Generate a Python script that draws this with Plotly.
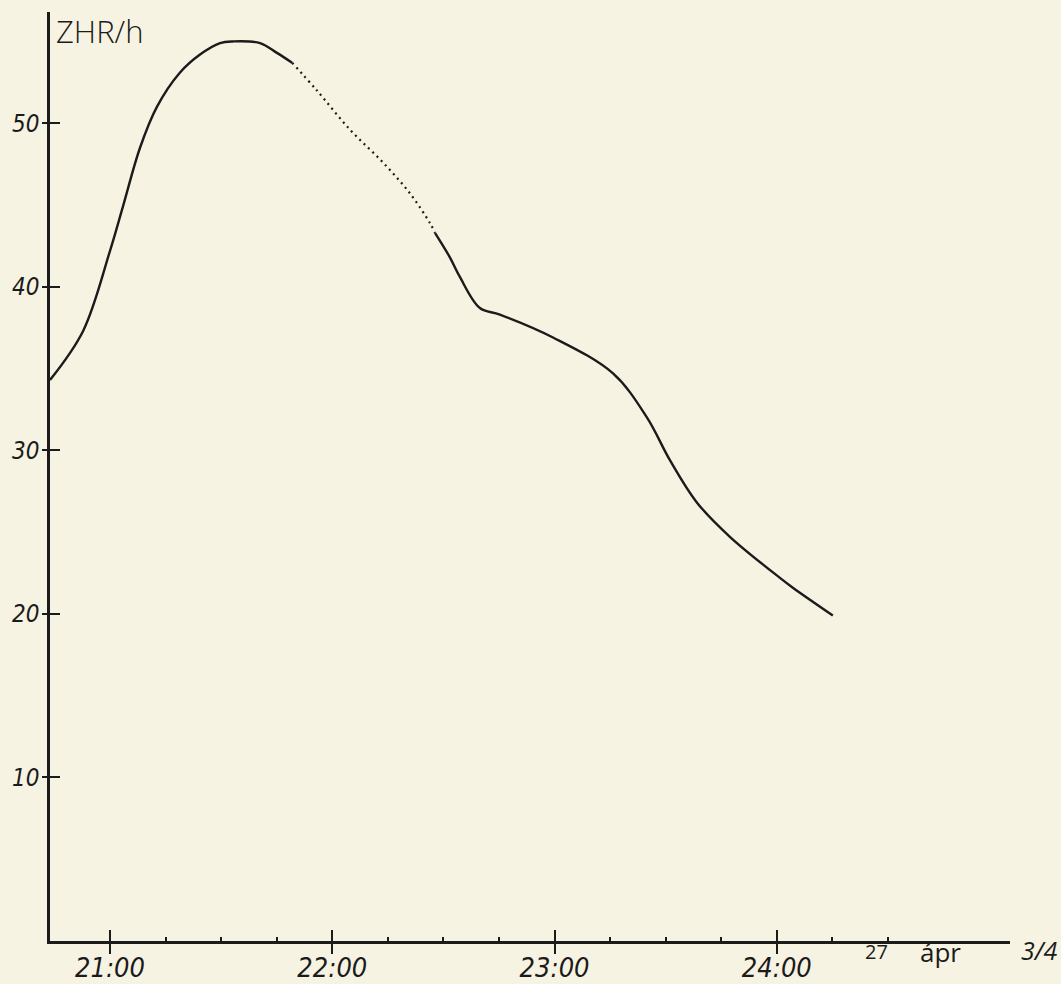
import plotly.graph_objects as go

# time in decimal hours (21.5 = 21:30), ZHR values
t_early = [20.730, 20.879, 21.000, 21.058, 21.135, 21.211, 21.315, 21.405, 21.495, 21.553, 21.675, 21.751, 21.819]
zhr_early = [34.3, 37.3, 42.2, 44.9, 48.5, 51.0, 53.1, 54.2, 54.9, 55.0, 54.9, 54.3, 53.7]

t_gap = [21.819, 21.931, 22.080, 22.228, 22.350, 22.439, 22.462]
zhr_gap = [53.7, 52.0, 49.6, 47.6, 45.7, 43.9, 43.3]

t_late = [22.462, 22.529, 22.574, 22.664, 22.754, 22.993, 23.263, 23.416, 23.519, 23.641, 23.790, 24.014, 24.072, 24.252]
zhr_late = [43.3, 41.8, 40.6, 38.7, 38.3, 36.9, 34.7, 32.0, 29.4, 26.8, 24.7, 22.2, 21.6, 19.9]

hour_ticks = [21, 22, 23, 24]
hour_labels = ["21:00", "22:00", "23:00", "24:00"]
quarter_ticks = [21.25, 21.5, 21.75, 22.25, 22.5, 22.75, 23.25, 23.5, 23.75, 24.25, 24.5]
y_ticks = [10, 20, 30, 40, 50]

ink = "#1b1b1b"
paper = "#f7f3e2"
XR = [20.730, 25.049]
YR = [0, 56.8]

fig = go.Figure()
fig.add_trace(go.Scatter(x=t_early, y=zhr_early, mode="lines",
                         line=dict(color=ink, width=2.4, shape="spline", smoothing=1.0),
                         hoverinfo="skip", showlegend=False, cliponaxis=False))
fig.add_trace(go.Scatter(x=t_gap, y=zhr_gap, mode="lines",
                         line=dict(color=ink, width=2.2, shape="spline", smoothing=1.0, dash="2px,4px"),
                         hoverinfo="skip", showlegend=False))
fig.add_trace(go.Scatter(x=t_late, y=zhr_late, mode="lines",
                         line=dict(color=ink, width=2.4, shape="spline", smoothing=1.0),
                         hoverinfo="skip", showlegend=False))
# empty trace to anchor the overlay axes (inner halves of crossing ticks)
fig.add_trace(go.Scatter(x=[], y=[], xaxis="x2", yaxis="y2", showlegend=False, hoverinfo="skip"))

narrow = "Liberation Sans Narrow, DejaVu Sans Condensed"
xtick_font = dict(family=narrow, size=27, color=ink, style="italic")
ytick_font = dict(family=narrow, size=24, color=ink, style="italic")

fig.update_layout(
    width=1061, height=984,
    margin=dict(l=50, r=51, t=12, b=43, autoexpand=False),
    paper_bgcolor=paper, plot_bgcolor=paper,
    showlegend=False,
    xaxis=dict(range=XR, showgrid=False, zeroline=False, automargin=False,
               showline=True, linecolor=ink, linewidth=2.5,
               tickmode="array", tickvals=hour_ticks, ticktext=hour_labels,
               ticks="outside", ticklen=10, tickwidth=2, tickcolor=ink,
               tickfont=xtick_font, ticklabelstandoff=-9,
               minor=dict(tickmode="array", tickvals=quarter_ticks, ticks="inside",
                          ticklen=4, tickwidth=1.8, tickcolor=ink)),
    yaxis=dict(range=YR, showgrid=False, zeroline=False, automargin=False,
               showline=True, linecolor=ink, linewidth=2.5,
               tickmode="array", tickvals=y_ticks, ticktext=[str(v) for v in y_ticks],
               ticks="outside", ticklen=5, tickwidth=2, tickcolor=ink,
               tickfont=ytick_font, ticklabelstandoff=-2),
    xaxis2=dict(range=XR, overlaying="x", anchor="y2", side="bottom", automargin=False,
                showgrid=False, zeroline=False, showline=False,
                tickmode="array", tickvals=hour_ticks, showticklabels=False,
                ticks="inside", ticklen=11, tickwidth=2, tickcolor=ink),
    yaxis2=dict(range=YR, overlaying="y", anchor="x2", side="left", automargin=False,
                showgrid=False, zeroline=False, showline=False,
                tickmode="array", tickvals=y_ticks, showticklabels=False,
                ticks="inside", ticklen=10, tickwidth=2, tickcolor=ink),
)

# paper x coordinate for the date pieces (plot area 50..1010 px)
def px_to_paper(px):
    return (px - 50) / 960.0

fig.add_annotation(text="ZHR/h", xref="paper", yref="paper", x=0.004, y=1.0,
                   xanchor="left", yanchor="top", showarrow=False, yshift=4,
                   font=dict(family="Open Sans", size=31, color=ink, weight=300))
fig.add_annotation(text="27", xref="paper", yref="paper", x=px_to_paper(876), y=0, yshift=5,
                   xanchor="center", yanchor="top", showarrow=False,
                   font=dict(family="Open Sans", size=20, color=ink))
fig.add_annotation(text="ápr", xref="paper", yref="paper", x=px_to_paper(940), y=0, yshift=9,
                   xanchor="center", yanchor="top", showarrow=False,
                   font=dict(family="Open Sans", size=26, color=ink))
fig.add_annotation(text="3/4", xref="paper", yref="paper", x=px_to_paper(1039), y=0, yshift=10,
                   xanchor="center", yanchor="top", showarrow=False,
                   font=dict(family="Open Sans", size=25, color=ink, style="italic"))

fig.write_html("out.html", config={"displayModeBar": False},
               post_script="document.body.style.margin='0';document.body.style.background='%s';" % paper)
